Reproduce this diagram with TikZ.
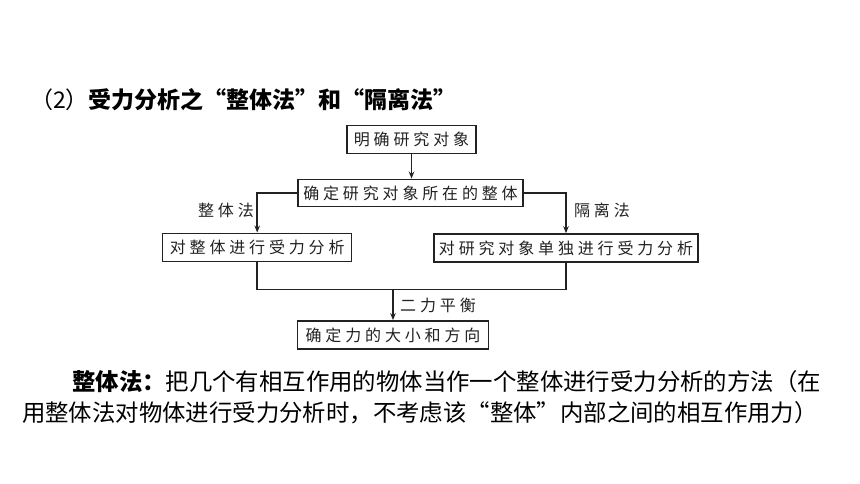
\documentclass[tikz,border=0pt]{standalone}
\usepackage{fontspec}
\usetikzlibrary{arrows.meta}
\newfontfamily\cjk{Noto Sans CJK SC}
\newfontfamily\cjkbox[LetterSpace=24]{Noto Sans CJK SC}
\definecolor{ink}{HTML}{222222}
\tikzset{
  box/.style={draw=ink, line width=1.5pt, inner sep=0pt, text=ink,
    font=\cjkbox\fontsize{16}{16}\selectfont, align=center},
  lbl/.style={text=ink, inner sep=0pt, font=\cjkbox\fontsize{16}{16}\selectfont},
  conn/.style={draw=ink, line width=1.5pt},
  arr/.style={conn, -{Stealth[length=7pt,width=5.5pt]}},
  body/.style={inner sep=0pt, anchor=west, text=black, font=\cjk\fontsize{23.4}{23.4}\selectfont},
  ttl/.style={inner sep=0pt, anchor=west, text=black, font=\cjk\fontsize{23}{23}\selectfont}
}
\begin{document}
\begin{tikzpicture}[x=1pt,y=-1pt]
\useasboundingbox[fill=white] (0,0) rectangle (860,484);
% title
\node[ttl] (title) at (30,100) {（2）\textbf{受力分析之“整体法”和“隔离法”}};
% boxes
\node[box, minimum width=129pt, minimum height=27.6pt] (top) at (411.5,139.5) {明确研究对象};
\node[box, minimum width=225pt, minimum height=27.4pt] (mid) at (410.5,193) {确定研究对象所在的整体};
\node[box, minimum width=189pt, minimum height=28.4pt] (left) at (257.2,247.5) {对整体进行受力分析};
\node[box, minimum width=264pt, minimum height=28pt] (right) at (566,248) {对研究对象单独进行受力分析};
\node[box, minimum width=190.6pt, minimum height=28.3pt] (bot) at (393,335) {确定力的大小和方向};
\coordinate (J) at (393,289.3);
% connectors
\draw[arr] (top.south) -- (top.south |- mid.north);
\draw[arr] (mid.west) -| (left.north);
\draw[arr] (mid.east) -| (right.north);
\draw[conn] (left.south) |- (J) -| (right.south);
\draw[arr] (J) -- (bot.north);
% labels
\node[lbl] (l1) at (226,210) {整体法};
\node[lbl] (l2) at (602,210) {隔离法};
\node[lbl] (l3) at (438,305) {二力平衡};
% paragraph
\node[body] (p1) at (72,382) {\textbf{整体法：}把几个有相互作用的物体当作一个整体进行受力分析的方法（在};
\node[body] (p2) at (22,413) {用整体法对物体进行受力分析时，不考虑该“整体”内部之间的相互作用力）};
\end{tikzpicture}
\end{document}
